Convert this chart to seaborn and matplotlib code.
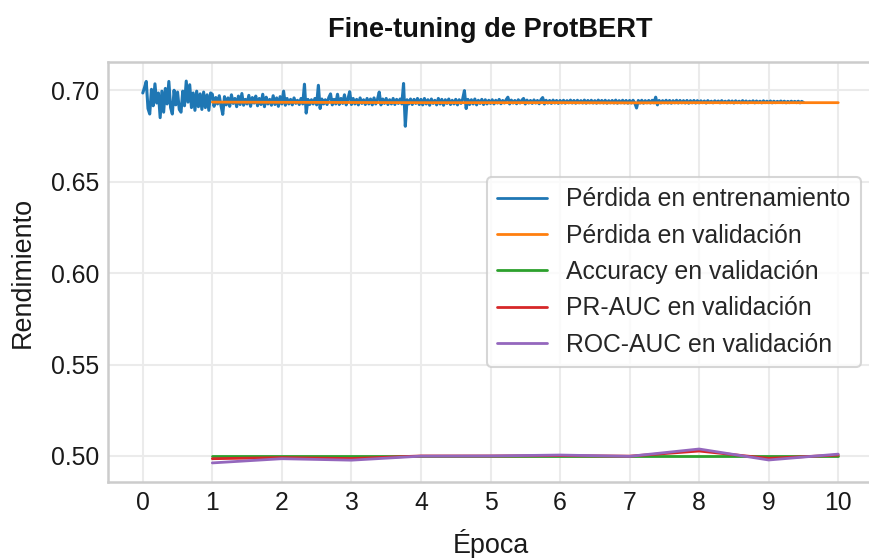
import matplotlib
matplotlib.use("Agg")
import matplotlib.pyplot as plt
import numpy as np
import seaborn as sns

train_loss_e4 = [
    # epoch 0
    6985, 7015, 7048, 6900, 6870, 7005, 6915, 7035, 6930, 6985, 6850, 6995, 6880, 7010, 6925, 7048, 6905, 6870, 7000, 6920,
    6990, 6895, 6880, 6995, 6915, 7050, 6935, 7030, 6905, 6985, 6890, 6995, 6910, 6980, 6895, 6990, 6905, 6975, 6890, 6985,
    # epoch 1
    6978, 6912, 6960, 6925, 6970, 6915, 6868, 6965, 6920, 6958, 6912, 6975, 6928, 6955, 6910, 6968, 6922, 6982, 6918, 6950,
    6925, 6972, 6912, 6960, 6930, 6968, 6915, 6955, 6922, 6978, 6910, 6962, 6925, 6950, 6918, 6970, 6922, 6958, 6912, 6965,
    # epoch 2
    6925, 6995, 6918, 6955, 6925, 6950, 6920, 6958, 6928, 6945, 6922, 6955, 6925, 7033, 6875, 6950, 6922, 6948, 6925, 6955,
    6920, 7027, 6900, 6952, 6925, 6948, 6922, 6960, 6980, 6920, 6950, 6925, 6978, 6922, 6955, 6928, 6975, 6920, 6952, 6992,
    # epoch 3
    6922, 6955, 6925, 6950, 6920, 6958, 6928, 6948, 6922, 6955, 6925, 6952, 6920, 6958, 6925, 6950, 6990, 6920, 6952, 6928,
    6955, 6922, 6948, 6925, 6955, 6922, 6950, 6928, 6952, 6925, 7037, 6803, 6948, 6925, 6952, 6922, 6950, 6928, 6955, 6922,
    # epoch 4
    6950, 6920, 6955, 6925, 6948, 6918, 6952, 6928, 6945, 6920, 6955, 6925, 6950, 6918, 6948, 6928, 6952, 6922, 6945, 6925,
    6950, 6920, 6948, 6928, 6952, 6998, 6900, 6950, 6922, 6948, 6925, 6952, 6920, 6945, 6928, 6950, 6922, 6948, 6925, 6945,
    # epoch 5
    6928, 6948, 6925, 6945, 6930, 6950, 6926, 6944, 6930, 6948, 6962, 6925, 6946, 6930, 6944, 6926, 6948, 6930, 6945, 6955,
    6925, 6946, 6930, 6944, 6928, 6947, 6930, 6944, 6926, 6948, 6960, 6925, 6945, 6930, 6944, 6928, 6946, 6930, 6944, 6928,
    # epoch 6
    6944, 6930, 6945, 6929, 6943, 6931, 6946, 6930, 6944, 6929, 6945, 6931, 6943, 6930, 6946, 6929, 6944, 6931, 6945, 6930,
    6943, 6929, 6946, 6931, 6944, 6930, 6945, 6929, 6943, 6931, 6944, 6930, 6946, 6929, 6943, 6931, 6945, 6930, 6944, 6929,
    # epoch 7
    6944, 6930, 6945, 6931, 6903, 6944, 6930, 6945, 6929, 6943, 6931, 6944, 6930, 6945, 6931, 6962, 6920, 6944, 6930, 6943,
    6931, 6945, 6930, 6944, 6929, 6943, 6931, 6945, 6930, 6944, 6931, 6943, 6930, 6944, 6929, 6943, 6931, 6944, 6930, 6943,
    # epoch 8
    6931, 6942, 6932, 6941, 6930, 6943, 6932, 6940, 6931, 6942, 6933, 6941, 6931, 6943, 6932, 6940, 6931, 6942, 6932, 6941,
    6930, 6942, 6932, 6940, 6931, 6943, 6932, 6941, 6931, 6940, 6933, 6942, 6931, 6941, 6932, 6940, 6931, 6942, 6932, 6940,
    # epoch 9 (first half)
    6932, 6941, 6931, 6940, 6932, 6939, 6933, 6941, 6932, 6940, 6931, 6939, 6932, 6940, 6933, 6939, 6932, 6940, 6931, 6939,
    6933,
]
logs_per_epoch = 40
train_loss = np.array(train_loss_e4) / 1e4
train_epoch = np.arange(len(train_loss)) / logs_per_epoch

# Validation metrics, one per epoch
val_epoch = [1, 2, 3, 4, 5, 6, 7, 8, 9, 10]
val_loss = [0.6935, 0.6934, 0.6933, 0.6932, 0.6932, 0.6932, 0.6931, 0.6932, 0.6932, 0.6932]
val_acc = [0.5000, 0.5000, 0.5000, 0.5000, 0.5000, 0.5000, 0.5000, 0.5000, 0.5000, 0.5000]
val_pr_auc = [0.4985, 0.4991, 0.4986, 0.5000, 0.5000, 0.5002, 0.4999, 0.5027, 0.4987, 0.5005]
val_roc_auc = [0.4962, 0.4985, 0.4977, 0.4999, 0.5000, 0.5005, 0.4998, 0.5038, 0.4978, 0.5010]

labels = ["Pérdida en entrenamiento", "Pérdida en validación", "Accuracy en validación",
          "PR-AUC en validación", "ROC-AUC en validación"]
colors = ["#1f77b4", "#ff7f0e", "#2ca02c", "#d62728", "#9467bd"]

sns.set_theme(style="whitegrid")
plt.rcParams['font.family'] = ['Liberation Sans', 'DejaVu Sans']
plt.rcParams['axes.edgecolor'] = '#cccccc'
plt.rcParams['grid.color'] = '#ebebeb'

fig = plt.figure(figsize=(8.69, 5.58), dpi=100)
ax = fig.add_axes([108 / 869, 1 - 482 / 558, 765 / 869, 420 / 558])

LW = 2.0
sns.lineplot(x=train_epoch, y=train_loss, ax=ax, color=colors[0], lw=2.2, label=labels[0])
sns.lineplot(x=val_epoch, y=val_loss, ax=ax, color=colors[1], lw=LW, label=labels[1])
sns.lineplot(x=val_epoch, y=val_acc, ax=ax, color=colors[2], lw=LW, label=labels[2])
sns.lineplot(x=val_epoch, y=val_pr_auc, ax=ax, color=colors[3], lw=LW, label=labels[3])
sns.lineplot(x=val_epoch, y=val_roc_auc, ax=ax, color=colors[4], lw=LW, label=labels[4])

for sp in ax.spines.values():
    sp.set_linewidth(1.8)
ax.grid(True, linewidth=1.5)
ax.set_xticks(range(0, 11))
ax.set_yticks([0.50, 0.55, 0.60, 0.65, 0.70])
ax.set_yticklabels(["0.50", "0.55", "0.60", "0.65", "0.70"])
ax.tick_params(labelsize=17.8, pad=0.3, colors='#1a1a1a')

ax.set_xlabel("Época", fontsize=19.4, labelpad=10, color='#1a1a1a')
ax.set_ylabel("Rendimiento", fontsize=19.4, labelpad=11, color='#1a1a1a')
ax.set_title("Fine-tuning de ProtBERT", fontsize=19.6, fontweight='bold', pad=18, color='#111111')

leg = ax.legend(loc='center right', fontsize=17.8, frameon=True)
for h in leg.get_lines():
    h.set_linewidth(LW)
leg.get_frame().set_edgecolor('#cccccc')
leg.get_frame().set_linewidth(1.5)

fig.savefig("out.png", dpi=100)
